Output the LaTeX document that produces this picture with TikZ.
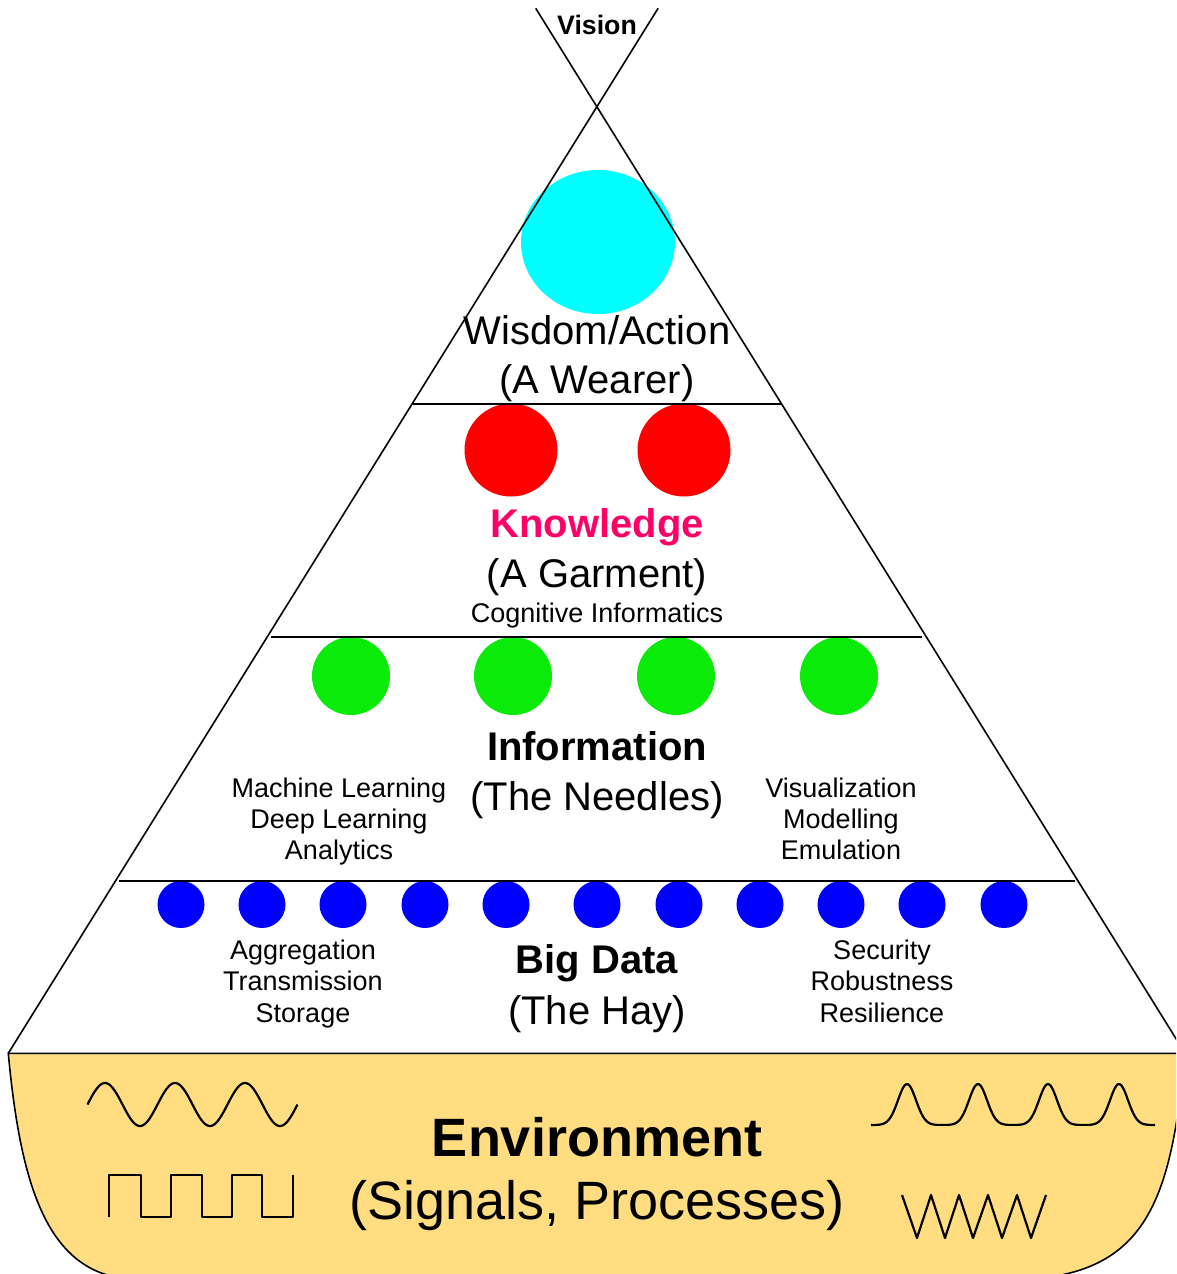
\documentclass[tikz,border=0pt]{standalone}
\usepackage{fontspec}
\setmainfont{Liberation Sans}
\usetikzlibrary{calc,shapes.geometric}
\definecolor{envfill}{RGB}{255,221,128}
\definecolor{knowc}{RGB}{255,0,102}
\definecolor{cyanc}{RGB}{0,255,255}
\definecolor{redc}{RGB}{255,0,0}
\definecolor{greenc}{RGB}{10,235,10}
\definecolor{bluec}{RGB}{0,0,255}
\begin{document}
\begin{tikzpicture}[x=1pt,y=-1pt,
  edge/.style={draw=black,line width=1.6pt},
  wave/.style={draw=black,line width=2.2pt,line join=round},
  dot/.style={circle,inner sep=0pt,draw=none},
  vis/.style={anchor=base,font=\fontsize{26.7}{30}\selectfont\bfseries},
  bigt/.style={anchor=base,font=\fontsize{40}{48}\selectfont},
  bigb/.style={anchor=base,font=\fontsize{40}{48}\selectfont\bfseries},
  smallt/.style={anchor=base,font=\fontsize{27}{31}\selectfont},
  envb/.style={anchor=base,font=\fontsize{54}{62}\selectfont\bfseries},
  envt/.style={anchor=base,font=\fontsize{54}{62}\selectfont}]
\useasboundingbox (0,0) rectangle (1176,1274);
\clip (0,0) rectangle (1176,1274);

% environment basin
\filldraw[fill=envfill,edge] (8.3,1053.3) -- (1185,1053.3)
  .. controls (1172,1190) and (1150,1262) .. (1050,1277)
  -- (115,1277)
  .. controls (45,1262) and (20,1180) .. (8.3,1053.3) -- cycle;

% circles
\node[ellipse,inner sep=0pt,draw=none,fill=cyanc,minimum width=154pt,minimum height=144pt] (wis) at (598,242) {};
\node[dot,fill=redc,minimum size=93pt] (k1) at (511,450) {};
\node[dot,fill=redc,minimum size=93pt] (k2) at (684,450) {};
\foreach \xx [count=\i] in {351,513,676,839}
  \node[dot,fill=greenc,minimum size=78pt] (g\i) at (\xx,676) {};
\foreach \xx [count=\i] in {181,262,343,425,506,597,679,760,841,922,1004}
  \node[dot,fill=bluec,minimum size=47pt] (b\i) at (\xx,904.5) {};

% pyramid lines
\coordinate (topL) at (535.7,8.3);
\coordinate (topR) at (658.1,8.3);
\coordinate (botL) at (8.3,1053.3);
\coordinate (botR) at (1185.1,1053.3);
\draw[edge] (topL) -- (botR);
\draw[edge] (topR) -- (botL);
\coordinate (h1l) at (413,404); \coordinate (h1r) at (781,404);
\coordinate (h2l) at (271,637); \coordinate (h2r) at (922,637);
\coordinate (h3l) at (119,881); \coordinate (h3r) at (1075,881);
\draw[edge] (h1l) -- (h1r);
\draw[edge] (h2l) -- (h2r);
\draw[edge] (h3l) -- (h3r);

% texts
\node[vis] (vision) at (597,34.5) {Vision};
\node[bigt] (wis1) at (597,344) {Wisdom/Action};
\node[bigt] (wis2) at (597,393) {(A Wearer)};
\node[bigb,text=knowc] (kn1) at (597,537) {Knowledge};
\node[bigt] (kn2) at (597,587) {(A Garment)};
\node[smallt] (kn3) at (597,622.5) {Cognitive Informatics};
\node[bigb] (in1) at (597,760) {Information};
\node[bigt] (in2) at (597,810) {(The Needles)};
\node[smallt] (ml1) at (339,797) {Machine Learning};
\node[smallt] (ml2) at (339,828) {Deep Learning};
\node[smallt] (ml3) at (339,859) {Analytics};
\node[smallt] (vz1) at (841,797) {Visualization};
\node[smallt] (vz2) at (841,828) {Modelling};
\node[smallt] (vz3) at (841,859) {Emulation};
\node[bigb] (bd1) at (597,973) {Big Data};
\node[bigt] (bd2) at (597,1024) {(The Hay)};
\node[smallt] (ag1) at (303,959) {Aggregation};
\node[smallt] (ag2) at (303,990) {Transmission};
\node[smallt] (ag3) at (303,1022) {Storage};
\node[smallt] (se1) at (882,959) {Security};
\node[smallt] (se2) at (882,990) {Robustness};
\node[smallt] (se3) at (882,1022) {Resilience};
\node[envb] (env1) at (597,1156) {Environment};
\node[envt] (env2) at (597,1219) {(Signals, Processes)};

% signals
\draw[wave] plot[domain=0:210,samples=150,smooth] ({\x+87.5},{1104.5-21.5*sin(5.142857*\x)});
\draw[wave] (109,1217) -- (109,1175) -- (141,1175) -- (141,1217) -- (171,1217)
  -- (171,1175) -- (202,1175) -- (202,1217) -- (232,1217) -- (232,1175)
  -- (262,1175) -- (262,1217) -- (293,1217) -- (293,1175);
\draw[wave] (871,1125)
  -- plot[domain=-30:30,samples=40,smooth] ({\x+907},{1125-41*exp(-\x*\x/162)})
  -- plot[domain=-30:30,samples=40,smooth] ({\x+978},{1125-41*exp(-\x*\x/162)})
  -- plot[domain=-30:30,samples=40,smooth] ({\x+1048},{1125-41*exp(-\x*\x/162)})
  -- plot[domain=-30:30,samples=40,smooth] ({\x+1119},{1125-41*exp(-\x*\x/162)})
  -- (1155,1125);
\draw[wave] (902,1195) -- (917,1238) -- (931,1195) -- (945,1238) -- (959,1195)
  -- (973,1238) -- (988,1195) -- (1002,1238) -- (1017,1195) -- (1031,1238) -- (1046,1195);
\end{tikzpicture}
\end{document}
